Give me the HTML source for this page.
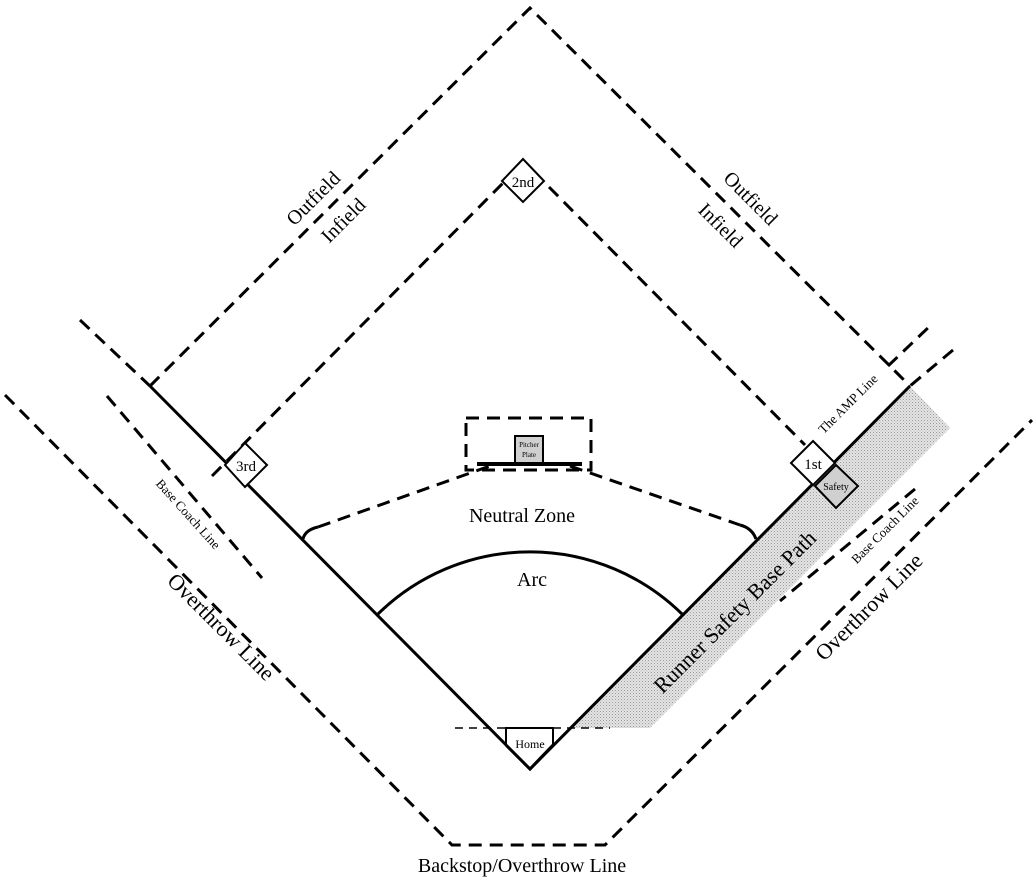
<!DOCTYPE html>
<html><head><meta charset="utf-8"><style>
html,body{margin:0;padding:0;background:#fff;}
svg{display:block;}
text{font-family:"Liberation Serif",serif;fill:#000;}
</style></head><body>
<svg width="1036" height="883" viewBox="0 0 1036 883" xmlns="http://www.w3.org/2000/svg">
<defs>
<pattern id="dots" width="3" height="3" patternUnits="userSpaceOnUse">
<rect width="3" height="3" fill="#e4e4e4"/><rect width="1" height="1" fill="#9a9a9a"/><rect x="1.5" y="1.5" width="1" height="1" fill="#b0b0b0"/>
</pattern>
</defs>
<polygon points="572,728 910,386 950,428 650,728" fill="url(#dots)"/>
<g fill="none" stroke="#000" stroke-width="3" stroke-dasharray="13,8">
<polyline points="150,386 530,8 910,386"/>
<line x1="212" y1="476" x2="503" y2="183"/>
<line x1="549" y1="187" x2="805" y2="445"/>
<line x1="80" y1="320" x2="150" y2="386"/>
<line x1="953" y1="350" x2="910" y2="386"/>
<line x1="888" y1="366" x2="932" y2="324"/>
<line x1="107" y1="396" x2="262" y2="578"/>
<line x1="915" y1="489" x2="780" y2="601"/>
<polyline points="5,395 452,845 605,845 1032,420"/>
<rect x="466" y="418" width="125" height="52"/>
<path d="M318,527 L490,466"/>
<path d="M570,466 L740,525"/>
</g>
<path d="M303,539 Q305,530 318,527" fill="none" stroke="#000" stroke-width="3"/>
<path d="M740,525 Q752,528 756,539" fill="none" stroke="#000" stroke-width="3"/>
<line x1="455" y1="728" x2="610" y2="728" stroke="#000" stroke-width="1.5" stroke-dasharray="8,6"/>
<polyline points="150,386 530,769 910,386" fill="none" stroke="#000" stroke-width="3"/>
<path d="M378,614 A217,217 0 0 1 682,614" fill="none" stroke="#000" stroke-width="3"/>
<line x1="477" y1="464" x2="582" y2="464" stroke="#000" stroke-width="4"/>
<rect x="515" y="436" width="28" height="27" fill="#d0d0d0" stroke="#000" stroke-width="2"/>
<text x="529" y="447" font-size="7" text-anchor="middle">Pitcher</text>
<text x="529" y="457" font-size="7" text-anchor="middle">Plate</text>
<polygon points="523,159 544,181 523,202 502,181" fill="#fff" stroke="#000" stroke-width="2"/>
<text x="523" y="187" font-size="15" text-anchor="middle">2nd</text>
<polygon points="245,443 267,465 245,487 225,465" fill="#fff" stroke="#000" stroke-width="2"/>
<text x="246" y="471" font-size="15" text-anchor="middle">3rd</text>
<polygon points="813,441 835,463 813,485 791,463" fill="#fff" stroke="#000" stroke-width="2"/>
<text x="813" y="469" font-size="15" text-anchor="middle">1st</text>
<polygon points="836,465 858,486 836,508 815,486" fill="#d0d0d0" stroke="#000" stroke-width="2"/>
<text x="836" y="490" font-size="10" text-anchor="middle">Safety</text>
<polyline points="506,745 506,728 553,728 553,745" fill="#fff" stroke="#000" stroke-width="2"/>
<polygon points="506,745 553,745 530,769" fill="#fff" stroke="none"/>
<polyline points="506,745 530,769 553,745" fill="none" stroke="#000" stroke-width="3"/>
<text x="530" y="748" font-size="12" text-anchor="middle">Home</text>
<text x="522" y="522" font-size="20" text-anchor="middle">Neutral Zone</text>
<text x="532" y="586" font-size="20" text-anchor="middle">Arc</text>
<text x="522" y="872" font-size="20" text-anchor="middle">Backstop/Overthrow Line</text>
<text transform="translate(318,203) rotate(-45)" font-size="20" text-anchor="middle">Outfield</text>
<text transform="translate(348,225) rotate(-45)" font-size="20" text-anchor="middle">Infield</text>
<text transform="translate(746,203) rotate(45)" font-size="20" text-anchor="middle">Outfield</text>
<text transform="translate(716,230) rotate(45)" font-size="20" text-anchor="middle">Infield</text>
<text transform="translate(185,517) rotate(48)" font-size="13" text-anchor="middle">Base Coach Line</text>
<text transform="translate(216,632) rotate(45)" font-size="22" text-anchor="middle">Overthrow Line</text>
<text transform="translate(851,407) rotate(-45)" font-size="13" text-anchor="middle">The AMP Line</text>
<text transform="translate(888,533) rotate(-45)" font-size="13" text-anchor="middle">Base Coach Line</text>
<text transform="translate(874,612) rotate(-45)" font-size="22" text-anchor="middle">Overthrow Line</text>
<text transform="translate(740,617) rotate(-45)" font-size="22" text-anchor="middle">Runner Safety Base Path</text>
</svg>
</body></html>
